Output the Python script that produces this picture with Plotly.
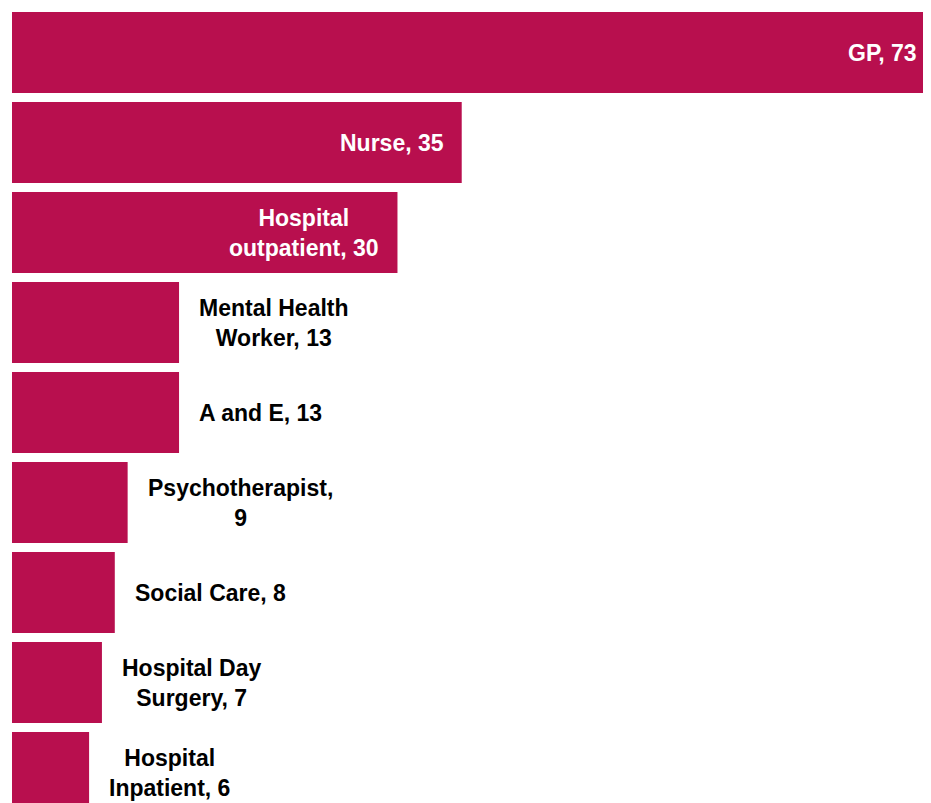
import plotly.graph_objects as go

categories = ["GP", "Nurse", "Hospital outpatient", "Mental Health Worker", "A and E",
              "Psychotherapist", "Social Care", "Hospital Day Surgery", "Hospital Inpatient"]
values = [73, 35, 30, 13, 13, 9, 8, 7, 6]
label_names = ["GP", "Nurse", "Hospital<br>outpatient", "Mental Health<br>Worker", "A and E",
               "Psychotherapist", "Social Care", "Hospital Day<br>Surgery", "Hospital<br>Inpatient"]
break_after_comma = {"Psychotherapist"}

BAR_COLOR = "#B80F4E"
FONT = "Liberation Sans, Arial, sans-serif"
XMAX = 70.9
INSIDE_MIN = 20

W, H = 915, 795          # page body has an 8px margin
TOP_CENTER = 44.5        # px from figure top to centre of first bar
PITCH = 90               # px per category

fig = go.Figure(go.Bar(
    x=values, y=categories, orientation="h",
    marker=dict(color=BAR_COLOR, line=dict(width=0)),
    hoverinfo="skip",
))

annotations = []
for name, cat, v in zip(label_names, categories, values):
    sep = ",<br>" if name in break_after_comma else ", "
    text = f"<b>{name}{sep}{v}</b>"
    inside = v > INSIDE_MIN
    clamped = v > XMAX
    if inside:
        shift = -4 if clamped else -16
    else:
        shift = 18
    annotations.append(dict(
        x=min(v, XMAX), y=cat, xref="x", yref="y", text=text, showarrow=False,
        xanchor="right" if inside else "left", xshift=shift,
        align="center",
        font=dict(family=FONT, size=23, color="white" if inside else "black"),
    ))

fig.update_layout(
    width=W, height=H,
    margin=dict(l=4, r=0, t=0, b=0),
    paper_bgcolor="white", plot_bgcolor="white",
    bargap=0.1, showlegend=False,
    xaxis=dict(visible=False, range=[0, XMAX], fixedrange=True),
    yaxis=dict(visible=False, categoryorder="array", categoryarray=categories,
               range=[(H - TOP_CENTER) / PITCH, -TOP_CENTER / PITCH], fixedrange=True),
    annotations=annotations,
)
fig.write_html("out.html")
